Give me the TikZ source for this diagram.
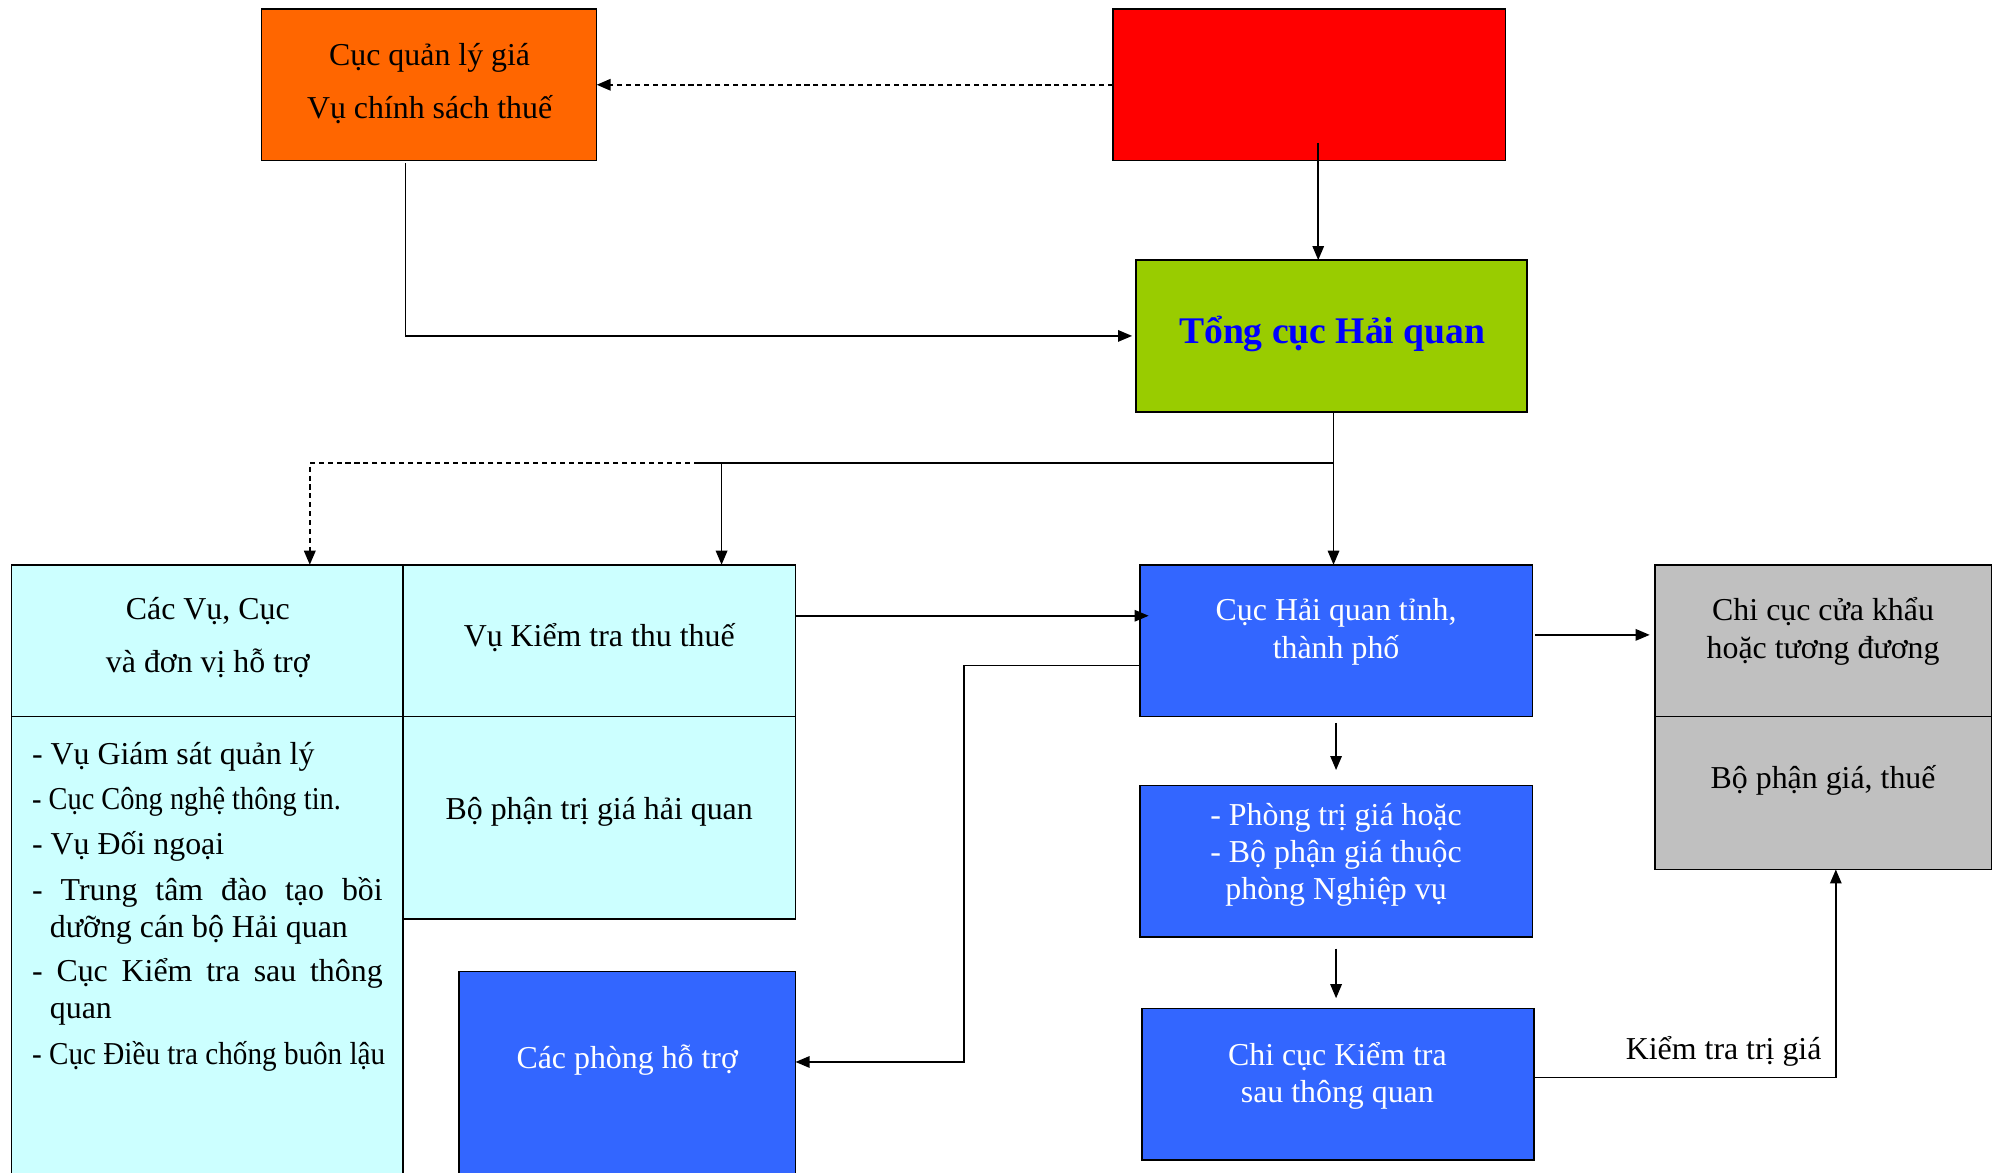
\documentclass[tikz,border=0pt]{standalone}
\usepackage{fontspec}
\setmainfont{Liberation Serif}
\usepackage{graphicx}
\usetikzlibrary{arrows.meta}
\definecolor{corange}{HTML}{FF6600}
\definecolor{cred}{HTML}{FF0000}
\definecolor{cgreen}{HTML}{99CC00}
\definecolor{ccyan}{HTML}{CCFFFF}
\definecolor{cblue}{HTML}{3366FF}
\definecolor{cgray}{HTML}{C0C0C0}
\definecolor{ctitle}{HTML}{0000FF}
\tikzset{
  box/.style={draw=black, line width=1.3pt, rectangle, inner sep=0pt, outer sep=0pt, anchor=north west},
  txt/.style={font=\fontsize{25}{30}\selectfont, align=center, inner sep=0pt},
  wtxt/.style={txt, text=white},
  ltxt/.style={font=\fontsize{25}{30}\selectfont, anchor=base west, inner sep=0pt},
  arr/.style={-{Triangle[length=11pt,width=9pt]}, line width=1.2pt},
  conn/.style={line width=1.6pt},
  dsh/.style={dash pattern=on 4pt off 3pt, line width=1.5pt},
}
\begin{document}
\begin{tikzpicture}[x=1pt,y=-1pt]
\useasboundingbox (0,0) rectangle (1568,920);
\clip (0,0) rectangle (1568,920);
\fill[white] (0,0) rectangle (1568,920);

% boxes
\node[box, fill=corange, minimum width=263pt, minimum height=119pt] (org) at (205,7) {};
\node[box, fill=cred, minimum width=308pt, minimum height=119pt] (red) at (873,7) {};
\node[box, fill=cgreen, minimum width=307pt, minimum height=119pt] (tchq) at (891,204) {};
\node[box, fill=ccyan, minimum width=307pt, minimum height=119pt] (c11) at (9,443) {};
\node[box, fill=ccyan, minimum width=308pt, minimum height=119pt] (c12) at (316,443) {};
\node[box, fill=ccyan, minimum width=307pt, minimum height=420pt] (c21) at (9,562) {};
\node[box, fill=ccyan, minimum width=308pt, minimum height=159pt] (c22) at (316,562) {};
\node[box, fill=cblue, minimum width=264pt, minimum height=220pt] (pht) at (360,762) {};
\node[box, fill=cblue, minimum width=308pt, minimum height=119pt] (cuchq) at (894,443) {};
\node[box, fill=cblue, minimum width=308pt, minimum height=119pt] (ptg) at (894,616) {};
\node[box, fill=cblue, minimum width=307pt, minimum height=119pt] (cckt) at (896,791) {};
\node[box, fill=cgray, minimum width=264pt, minimum height=119pt] (g1) at (1298,443) {};
\node[box, fill=cgray, minimum width=264pt, minimum height=120pt] (g2) at (1298,562) {};

% texts
\node[txt, font=\fontsize{25}{42}\selectfont] (t-org) at (337,65.5) {Cục quản lý giá\\Vụ chính sách thuế};
\node[txt, font=\bfseries\fontsize{29.5}{36}\selectfont, text=ctitle] (t-tchq) at (1045,262) {Tổng cục Hải quan};
\node[txt, font=\fontsize{25}{41}\selectfont] (t-c11) at (163,500) {Các Vụ, Cục\\và đơn vị hỗ trợ};
\node[txt] (t-c12) at (470,500.5) {Vụ Kiểm tra thu thuế};
\node[txt] (t-c22) at (470,636.5) {Bộ phận trị giá hải quan};
\node[wtxt] (t-pht) at (492,831.5) {Các phòng hỗ trợ};
\node[wtxt] (t-cuchq) at (1048,495.5) {Cục Hải quan tỉnh,\\thành phố};
\node[wtxt, font=\fontsize{25}{29}\selectfont] (t-ptg) at (1048,670.5) {- Phòng trị giá hoặc\\- Bộ phận giá thuộc\\phòng Nghiệp vụ};
\node[wtxt, font=\fontsize{25}{29}\selectfont] (t-cckt) at (1049,844) {Chi cục Kiểm tra\\sau thông quan};
\node[txt] (t-g1) at (1430,495.5) {Chi cục cửa khẩu\\hoặc tương đương};
\node[txt] (t-g2) at (1430,612.5) {Bộ phận giá, thuế};

% list
\node[ltxt] (l1) at (25,600) {- Vụ Giám sát quản lý};
\node[ltxt] (l2) at (25,635) {\scalebox{0.89}[1]{- Cục Công nghệ thông tin.}};
\node[ltxt] (l3) at (25,670) {- Vụ Đối ngoại};
\node[ltxt] (l4) at (25,706) {\makebox[275pt][s]{- Trung tâm đào tạo bồi}};
\node[ltxt] (l5) at (39,735) {dưỡng cán bộ Hải quan};
\node[ltxt] (l6) at (25,770) {\makebox[275pt][s]{- Cục Kiểm tra sau thông}};
\node[ltxt] (l7) at (39,799) {quan};
\node[ltxt] (l8) at (25,835) {\scalebox{0.915}[1]{- Cục Điều tra chống buôn lậu}};

% connectors
\coordinate (rin) at (1034,112);
\draw[arr] (rin) -- (rin |- tchq.north);
\draw[arr, dsh] (red.west) -- (org.east);
\coordinate (oin) at (318,128);
\draw[arr, shorten >=3pt] (oin) |- (tchq.west);

\coordinate (bj) at (1046,363);
\coordinate (bm) at (548,363);
\coordinate (bl) at (243,363);
\coordinate (bc) at (566,363);
\draw[arr] (tchq.south -| bj) -- (bj |- cuchq.north);
\draw[conn] (bj) -- (bm);
\draw[arr, dsh] (bm) -- (bl) -- (bl |- c11.north);
\draw[arr] (bc) -- (bc |- c12.north);

\coordinate (ky) at (624,483);
\draw[arr, shorten >=-7pt] (c12.east |- ky) -- (cuchq.west |- ky);
\coordinate (pv) at (756,522);
\coordinate (pw) at (756,833);
\draw[arr] (cuchq.west |- pv) -- (pv) -- (pw) -- (pht.east |- pw);
\coordinate (gy) at (1204,498);
\draw[arr, shorten <=2pt, shorten >=4pt] (cuchq.east |- gy) -- (g1.west |- gy);
\draw[arr, shorten <=5pt, shorten >=12pt] (cuchq.south) -- (cuchq.south |- ptg.north);
\draw[arr, shorten <=9pt, shorten >=8pt] (ptg.south) -- (ptg.south |- cckt.north);
\coordinate (kc) at (1440,845);
\draw[arr] (cckt.east |- kc) -- (kc) -- (kc |- g2.south);
\node[txt] (lbl) at (1352,824.5) {Kiểm tra trị giá};
\end{tikzpicture}
\end{document}
